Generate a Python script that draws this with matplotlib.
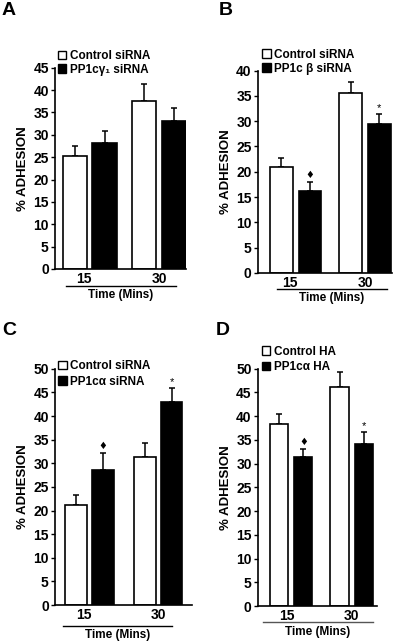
import matplotlib
matplotlib.use("Agg")
import matplotlib.pyplot as plt
from matplotlib.patches import Patch

plt.rcParams['font.family'] = ['Liberation Sans', 'DejaVu Sans']
plt.rcParams['font.weight'] = 'bold'
plt.rcParams['axes.labelweight'] = 'bold'

# time points (mins)
times = ["15", "30"]

# panel A
a_ctrl = [25.3, 37.5]
a_ctrl_err = [2.3, 3.8]
a_trt = [28.2, 33.1]
a_trt_err = [2.7, 2.8]
a_labels = ["Control siRNA", "PP1cγ\u2081 siRNA"]

# panel B
b_ctrl = [21.0, 35.5]
b_ctrl_err = [1.8, 2.3]
b_trt = [16.1, 29.5]
b_trt_err = [1.8, 2.0]
b_labels = ["Control siRNA", "PP1c β siRNA"]

# panel C
c_ctrl = [21.2, 31.4]
c_ctrl_err = [2.1, 2.9]
c_trt = [28.5, 43.0]
c_trt_err = [3.7, 2.9]
c_labels = ["Control siRNA", "PP1cα siRNA"]

# panel D
d_ctrl = [38.4, 46.1]
d_ctrl_err = [2.1, 3.1]
d_trt = [31.3, 34.1]
d_trt_err = [1.7, 2.6]
d_labels = ["Control HA", "PP1cα HA"]

W, H = 400, 642


def draw_panel(fig, rect, letter, letter_xy, ctrl, ctrl_err, trt, trt_err, labels, ymax,
               xlim, off, width, uline, leg_xy, leg_space, signif, line_col="black"):
    ax = fig.add_axes(rect)
    x = [0, 1]
    xc = [i - off for i in x]
    xt = [i + off for i in x]
    ax.bar(xc, ctrl, width, color="white", edgecolor="black", linewidth=1.2, zorder=2)
    ax.bar(xt, trt, width, color="black", edgecolor="black", linewidth=1.2, zorder=2)
    # upper error bars only
    ax.errorbar(xc, ctrl, yerr=[[0, 0], ctrl_err], fmt="none", ecolor="black",
                elinewidth=1.1, capsize=2.5, capthick=1.1, zorder=1)
    ax.errorbar(xt, trt, yerr=[[0, 0], trt_err], fmt="none", ecolor="black",
                elinewidth=1.1, capsize=2.5, capthick=1.1, zorder=1)

    if signif:
        top0 = trt[0] + trt_err[0]
        top1 = trt[1] + trt_err[1]
        ax.text(xt[0], top0 + 0.4, "♦", ha="center", va="bottom", fontsize=7,
                family=['DejaVu Sans'])
        ax.text(xt[1], top1 + 0.2, "*", ha="center", va="bottom", fontsize=8,
                fontweight="normal")

    ax.set_xlim(*xlim)
    ax.set_ylim(0, ymax)
    ax.set_yticks(range(0, ymax + 1, 5))
    ax.set_xticks([x[0] - 0.08, x[1]])
    ax.set_xticklabels(times)
    ax.tick_params(axis="x", length=0, pad=2, labelsize=10)
    ax.tick_params(axis="y", length=3, width=1, pad=1.5, labelsize=10)
    for s in ["top", "right"]:
        ax.spines[s].set_visible(False)
    ax.spines["left"].set_linewidth(1.2)
    ax.spines["bottom"].set_linewidth(1.2)
    ax.set_ylabel("% ADHESION", fontsize=9.5, labelpad=3)

    # underline below the time labels
    ax.plot([uline[0], uline[1]], [uline[2], uline[2]], color=line_col, lw=1,
            transform=ax.transAxes, clip_on=False)
    ax.text((uline[0] + uline[1]) / 2, uline[2] - 0.015, "Time (Mins)",
            transform=ax.transAxes, ha="center", va="top", fontsize=8.5)

    handles = [Patch(facecolor="white", edgecolor="black", linewidth=1),
               Patch(facecolor="black", edgecolor="black", linewidth=1)]
    ax.legend(handles, labels, loc="lower left", bbox_to_anchor=leg_xy,
              frameon=False, fontsize=8.5, handlelength=0.75, handleheight=0.75,
              handletextpad=0.3, labelspacing=leg_space, borderpad=0, borderaxespad=0)

    fig.text(letter_xy[0] / W, 1 - letter_xy[1] / H, letter, fontsize=14,
             fontweight="bold", ha="left", va="top")
    return ax


fig = plt.figure(figsize=(4.0, 6.42), dpi=100)

draw_panel(fig, [0.1375, 0.581, 0.3275, 0.3135], "A", (2, 2), a_ctrl, a_ctrl_err, a_trt,
           a_trt_err, a_labels, 45, (-0.502, 1.39), 0.213, 0.347,
           (0.084, 0.92, -0.083), (0.02, 0.96), 0.15, False)
draw_panel(fig, [0.645, 0.575, 0.335, 0.315], "B", (219, 2), b_ctrl, b_ctrl_err, b_trt,
           b_trt_err, b_labels, 40, (-0.545, 1.39), 0.206, 0.33,
           (0.14, 0.96, -0.081), (0.03, 0.98), 0.15, True)
draw_panel(fig, [0.1375, 0.0576, 0.3425, 0.368], "C", (2, 322), c_ctrl, c_ctrl_err, c_trt,
           c_trt_err, c_labels, 50, (-0.50, 1.49), 0.195, 0.31,
           (0.056, 0.857, -0.087), (0.02, 0.92), 0.3, True)
draw_panel(fig, [0.645, 0.056, 0.2975, 0.37], "D", (216, 322), d_ctrl, d_ctrl_err, d_trt,
           d_trt_err, d_labels, 50, (-0.55, 1.42), 0.2, 0.30,
           (0.04, 0.97, -0.069), (0.03, 0.98), 0.3, True, line_col="#555555")

fig.savefig("out.png", dpi=100)
